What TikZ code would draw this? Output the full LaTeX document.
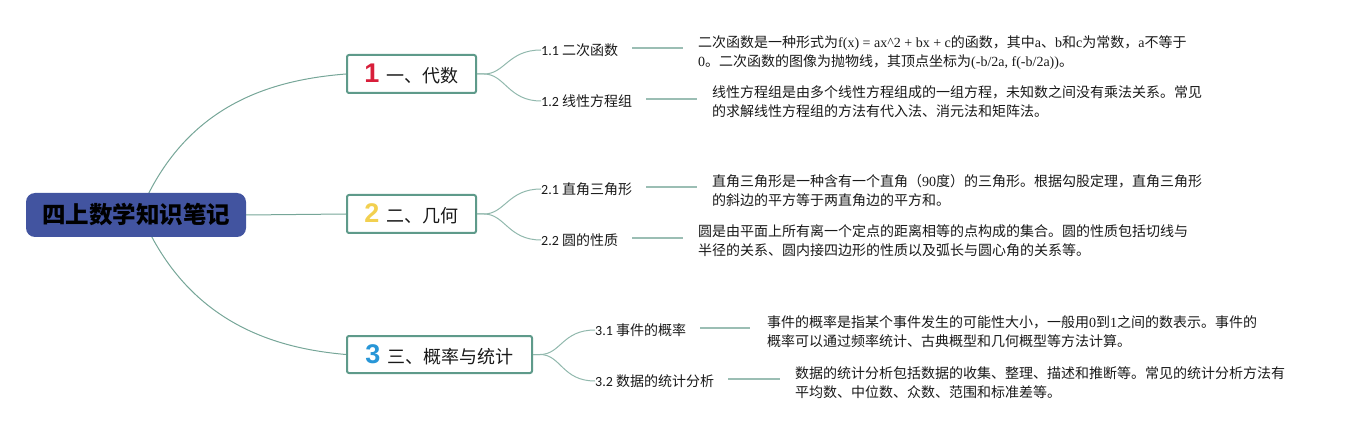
\documentclass[tikz,border=0pt]{standalone}
\usepackage{fontspec}
\setmainfont{Noto Sans CJK SC}
\newfontfamily\serifl{Liberation Serif}
\newfontfamily\lblf{Carlito}
\newfontfamily\digf{Liberation Sans}
\newcommand\ls[1]{{\serifl #1}}
\definecolor{rootblue}{RGB}{66,84,160}
\definecolor{boxteal}{RGB}{94,154,138}
\definecolor{curveteal}{RGB}{118,166,152}
\definecolor{lineteal}{RGB}{155,190,180}
\definecolor{dred}{RGB}{216,30,58}
\definecolor{dyellow}{RGB}{242,208,80}
\definecolor{dblue}{RGB}{40,150,215}
\definecolor{txt}{RGB}{25,25,25}
\tikzset{
  rootbox/.style={draw=none, fill=rootblue, rounded corners=9pt, minimum width=220pt, minimum height=44pt, inner sep=0pt, text=black, font=\fontsize{23.5}{26}\selectfont\bfseries},
  topicbox/.style={draw=boxteal, line width=2pt, rounded corners=2pt, fill=white, minimum height=38pt, inner sep=0pt, text=txt, font=\fontsize{18}{22}\selectfont},
  lbl/.style={anchor=west, inner sep=0pt, text=txt, font=\fontsize{14}{16}\selectfont},
  desc/.style={anchor=base west, inner sep=0pt, align=left, text=txt, font=\fontsize{14}{19}\selectfont},
  rootconn/.style={draw=curveteal, line width=1pt},
  subconn/.style={draw=curveteal!80, line width=1pt},
  lnk/.style={draw=lineteal, line width=1.5pt},
}
\newcommand\dig[2]{{\digf\fontsize{27}{27}\selectfont\bfseries\color{#1}#2}}
\begin{document}
\begin{tikzpicture}[x=1pt,y=-1pt]
\useasboundingbox (0,0) rectangle (1354,430);

% topics
\coordinate (rc) at (140,212);
\node[topicbox, minimum width=129pt] (t1) at (411.5,74) {\dig{dred}{1}\hspace{7pt}一、代数};
\node[topicbox, minimum width=129pt] (t2) at (411.5,214) {\dig{dyellow}{2}\hspace{7pt}二、几何};
\node[topicbox, minimum width=185pt, minimum height=37pt] (t3) at (439.5,354.5) {\dig{dblue}{3}\hspace{7pt}三、概率与统计};

% root connectors (behind root)
\draw[rootconn] (rc) .. controls (185,105) and (270,80) .. (t1.west);
\draw[rootconn] (rc) .. controls (185,320) and (270,348) .. (t3.west);
\node[rootbox] (root) at (136,215) {四上数学知识笔记};
\draw[rootconn] (root.east) -- (t2.west);

% labels
\node[lbl] (l11) at (541,50) {{\lblf 1.1} 二次函数};
\node[lbl] (l12) at (541,101) {{\lblf 1.2} 线性方程组};
\node[lbl] (l21) at (541,189) {{\lblf 2.1} 直角三角形};
\node[lbl] (l22) at (541,240) {{\lblf 2.2} 圆的性质};
\node[lbl] (l31) at (595,330) {{\lblf 3.1} 事件的概率};
\node[lbl] (l32) at (595,381) {{\lblf 3.2} 数据的统计分析};

% descriptions
\node[desc] (d11) at (698,67) {二次函数是一种形式为\ls{f(x) = ax\^{}2 + bx + c}的函数，其中\ls{a}、\ls{b}和\ls{c}为常数，\ls{a}不等于\\\ls{0}。二次函数的图像为抛物线，其顶点坐标为\ls{(-b/2a, f(-b/2a))}。};
\node[desc] (d12) at (712,117) {线性方程组是由多个线性方程组成的一组方程，未知数之间没有乘法关系。常见\\的求解线性方程组的方法有代入法、消元法和矩阵法。};
\node[desc] (d21) at (712,206) {直角三角形是一种含有一个直角（\ls{90}度）的三角形。根据勾股定理，直角三角形\\的斜边的平方等于两直角边的平方和。};
\node[desc] (d22) at (698,256) {圆是由平面上所有离一个定点的距离相等的点构成的集合。圆的性质包括切线与\\半径的关系、圆内接四边形的性质以及弧长与圆心角的关系等。};
\node[desc] (d31) at (767,346) {事件的概率是指某个事件发生的可能性大小，一般用\ls{0}到\ls{1}之间的数表示。事件的\\概率可以通过频率统计、古典概型和几何概型等方法计算。};
\node[desc] (d32) at (795,397) {数据的统计分析包括数据的收集、整理、描述和推断等。常见的统计分析方法有\\平均数、中位数、众数、范围和标准差等。};

% topic -> label curves
\draw[subconn] (t1.east) -- ++(7,0) .. controls (505,74) and (508,50) .. (l11.west);
\draw[subconn] (t1.east) -- ++(7,0) .. controls (505,74) and (508,101) .. (l12.west);
\draw[subconn] (t2.east) -- ++(7,0) .. controls (505,214) and (508,189) .. (l21.west);
\draw[subconn] (t2.east) -- ++(7,0) .. controls (505,214) and (508,240) .. (l22.west);
\draw[subconn] (t3.east) -- ++(7,0) .. controls (561,354.5) and (562,330) .. (l31.west);
\draw[subconn] (t3.east) -- ++(7,0) .. controls (561,354.5) and (562,381) .. (l32.west);

% label -> description lines
\draw[lnk] ([xshift=14pt,yshift=2pt]l11.east) -- ([xshift=-15pt,yshift=2pt]l11.east -| d11.west);
\draw[lnk] ([xshift=14pt,yshift=2pt]l12.east) -- ([xshift=-15pt,yshift=2pt]l12.east -| d12.west);
\draw[lnk] ([xshift=14pt,yshift=2pt]l21.east) -- ([xshift=-15pt,yshift=2pt]l21.east -| d21.west);
\draw[lnk] ([xshift=14pt,yshift=2pt]l22.east) -- ([xshift=-15pt,yshift=2pt]l22.east -| d22.west);
\draw[lnk] ([xshift=14pt,yshift=2pt]l31.east) -- ([xshift=-17pt,yshift=2pt]l31.east -| d31.west);
\draw[lnk] ([xshift=14pt,yshift=2pt]l32.east) -- ([xshift=-15pt,yshift=2pt]l32.east -| d32.west);
\end{tikzpicture}
\end{document}
